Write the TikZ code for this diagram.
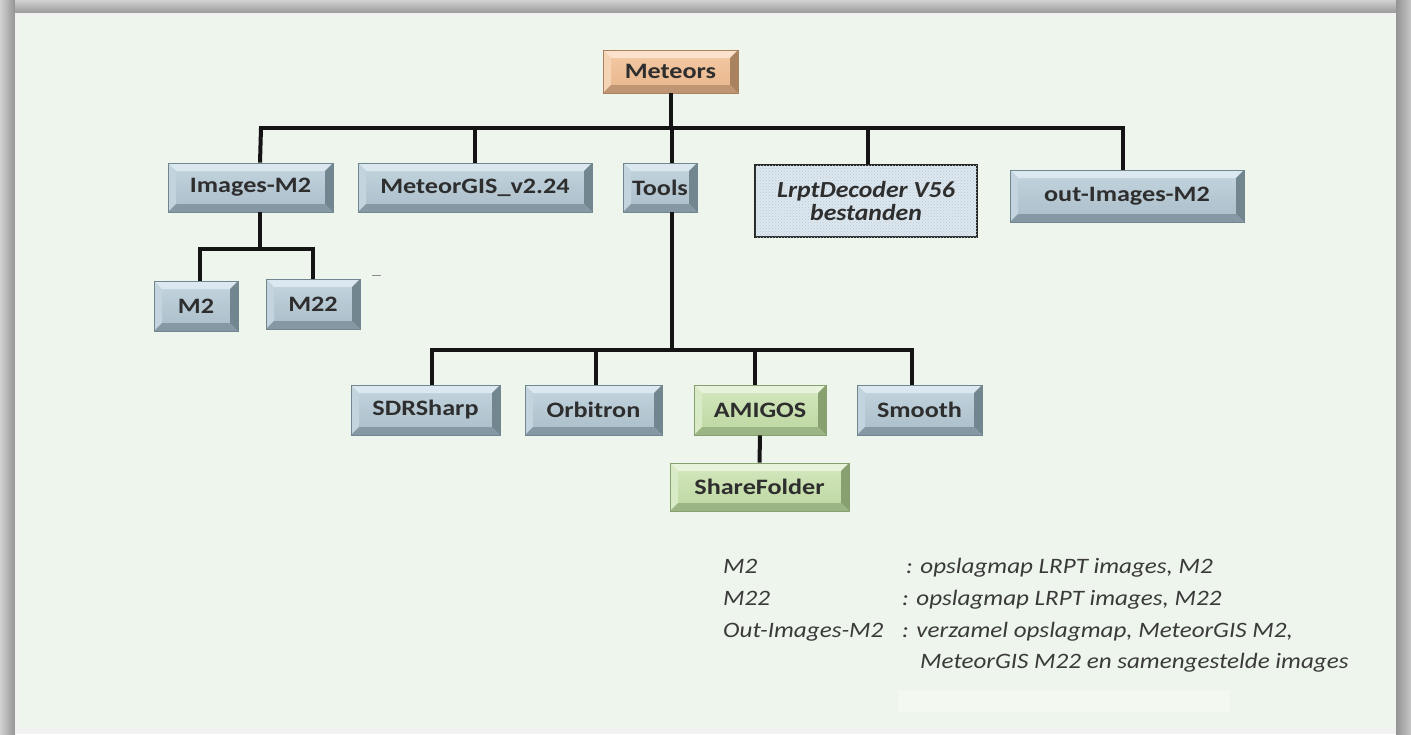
\documentclass[tikz,border=0pt]{standalone}
\usepackage{fontspec}
\setmainfont{Carlito}
\newfontfamily\boxfont[FakeStretch=1.19]{Carlito}
\newfontfamily\lrfont[FakeStretch=1.12]{Carlito}
\newfontfamily\lgdfont[FakeStretch=1.14]{Carlito}
\usetikzlibrary{patterns}
\definecolor{bg}{HTML}{EEF5EC}
\definecolor{txt}{HTML}{2E2E2E}
\definecolor{lgd}{HTML}{3A3A3A}
\definecolor{bfa}{HTML}{C4D5DF}\definecolor{bfb}{HTML}{A9BDC8}\definecolor{bt}{HTML}{DCE8EF}
\definecolor{bl}{HTML}{C3D4DE}\definecolor{br}{HTML}{71868F}\definecolor{bb}{HTML}{8598A3}
\definecolor{ofa}{HTML}{F4CAA4}\definecolor{ofb}{HTML}{E8B58C}\definecolor{ot}{HTML}{FAE2CC}
\definecolor{ol}{HTML}{F5D3B5}\definecolor{or}{HTML}{A98260}\definecolor{ob}{HTML}{BF9573}
\definecolor{gfa}{HTML}{D4E8BE}\definecolor{gfb}{HTML}{BCD6A0}\definecolor{gt}{HTML}{E8F3DC}
\definecolor{gl}{HTML}{D9EBC6}\definecolor{gr}{HTML}{889F70}\definecolor{gb}{HTML}{9CB584}
\definecolor{lrfill}{HTML}{DDE7EF}\definecolor{lrdot}{HTML}{B9CAD6}
\tikzset{
  bevelbox/.style n args={6}{inner sep=0pt, text=txt, font=\boxfont\bfseries\fontsize{22}{24}\selectfont,
    top color=#1, bottom color=#2, draw=#5, line width=0.8pt,
    path picture={
      \path (path picture bounding box.north west) coordinate (pnw)
            (path picture bounding box.south east) coordinate (pse);
      \fill[#3] (pnw) -- (pnw -| pse) -- ([shift={(-8pt,-8pt)}]pnw -| pse) -- ([shift={(8pt,-8pt)}]pnw) -- cycle;
      \fill[#4] (pnw) -- (pnw |- pse) -- ([shift={(8pt,8pt)}]pnw |- pse) -- ([shift={(8pt,-8pt)}]pnw) -- cycle;
      \fill[#5] (pnw -| pse) -- (pse) -- ([shift={(-8pt,8pt)}]pse) -- ([shift={(-8pt,-8pt)}]pnw -| pse) -- cycle;
      \fill[#6] (pse) -- (pnw |- pse) -- ([shift={(8pt,8pt)}]pnw |- pse) -- ([shift={(-8pt,8pt)}]pse) -- cycle;
    }},
  bluebox/.style={bevelbox={bfa}{bfb}{bt}{bl}{br}{bb}},
  orangebox/.style={bevelbox={ofa}{ofb}{ot}{ol}{or}{ob}},
  greenbox/.style={bevelbox={gfa}{gfb}{gt}{gl}{gr}{gb}},
  conn/.style={line width=4pt, draw=black!92},
  legend/.style={anchor=base west, inner sep=0pt, text=lgd, font=\lgdfont\itshape\fontsize{22}{24}\selectfont},
}
\begin{document}
\begin{tikzpicture}[x=1pt,y=-1pt]
% frame
\useasboundingbox (0,0) rectangle (1411,734);
\fill[black!30] (0,0) rectangle (1411,734);
\shade[left color=black!18, right color=black!42] (0,0) rectangle (15,734);
\shade[top color=black!18, bottom color=black!40] (15,0) rectangle (1396,13);
\shade[left color=black!42, right color=black!22] (1396,0) rectangle (1411,734);
\fill[white!95!black] (15,13) rectangle (1396,734);
\fill[bg] (18,16) rectangle (1394,728);
\fill[white, opacity=0.3] (898,690) rectangle (1230,712);

% nodes
\node[orangebox, minimum width=135, minimum height=43] (met) at (670.5,71.5) {Meteors};
\node[bluebox, minimum width=165, minimum height=49] (img) at (250.5,187.5) {Images-M2};
\node[bluebox, minimum width=234, minimum height=49] (gis) at (475,187.5) {MeteorGIS\_v2.24};
\node[bluebox, minimum width=74, minimum height=49] (tools) at (660,187.5) {Tools};
\node[draw=black!85, line width=2pt, fill=lrfill, minimum width=222, minimum height=72, inner sep=0pt,
      postaction={pattern=crosshatch dots, pattern color=lrdot},
      text=txt, font=\lrfont\bfseries\itshape\fontsize{23}{23}\selectfont, align=center] (lrpt) at (866,201) {LrptDecoder V56\\bestanden};
\node[bluebox, minimum width=234, minimum height=52] (out) at (1127,196) {out-Images-M2};
\node[bluebox, minimum width=84, minimum height=50] (m2) at (196,306) {M2};
\node[bluebox, minimum width=94, minimum height=50] (m22) at (313,304) {M22};
\node[bluebox, minimum width=149, minimum height=50] (sdr) at (425.5,410) {SDRSharp};
\node[bluebox, minimum width=137, minimum height=50] (orb) at (593.5,410) {Orbitron};
\node[greenbox, minimum width=132, minimum height=50] (ami) at (760,410) {AMIGOS};
\node[bluebox, minimum width=125, minimum height=50] (smo) at (919.5,410) {Smooth};
\node[greenbox, minimum width=179, minimum height=48] (share) at (759.5,487) {ShareFolder};
\fill[black!45] (372,274.5) rectangle (381,276);

% junction coordinates
\coordinate (busA) at (261,128);
\coordinate (busB) at (1123,128);
\coordinate (busC) at (200,249);
\coordinate (busD) at (313,249);
\coordinate (busE) at (432,350);
\coordinate (busF) at (912,350);

% connectors
\draw[conn] (met.south) -- (met.south |- busA);
\draw[conn, line cap=rect] (busA) -- (busB);
\draw[conn] (busA) -- ([xshift=9.5pt]img.north);
\draw[conn] (gis.north) -- (gis.north |- busA);
\draw[conn] ([xshift=12pt]tools.north) -- ([xshift=12pt]tools.north |- busA);
\draw[conn] ([xshift=2pt]lrpt.north) -- ([xshift=2pt]lrpt.north |- busA);
\draw[conn] (busB) -- ([xshift=-4pt]out.north);

\draw[conn] ([xshift=9.5pt]img.south) -- ([xshift=9.5pt]img.south |- busC);
\draw[conn, line cap=rect] (busC) -- (busD);
\draw[conn] (busC) -- ([xshift=4pt]m2.north);
\draw[conn] (busD) -- (m22.north);

\draw[conn] ([xshift=12pt]tools.south) -- ([xshift=12pt]tools.south |- busE);
\draw[conn, line cap=rect] (busE) -- (busF);
\draw[conn] (busE) -- ([xshift=6.5pt]sdr.north);
\draw[conn] ([xshift=2.5pt]orb.north) -- ([xshift=2.5pt]orb.north |- busE);
\draw[conn] ([xshift=-5pt]ami.north) -- ([xshift=-5pt]ami.north |- busE);
\draw[conn] (busF) -- ([xshift=-7.5pt]smo.north);
\draw[conn] (ami.south) -- (share.north);

% legend
\node[legend] (l1a) at (723,573) {M2};
\node[legend] (l1b) at (906,573) {: opslagmap LRPT images, M2};
\node[legend] (l2a) at (723,605) {M22};
\node[legend] (l2b) at (902,605) {: opslagmap LRPT images, M22};
\node[legend] (l3a) at (723,637) {Out-Images-M2};
\node[legend] (l3b) at (902,637) {: verzamel opslagmap, MeteorGIS M2,};
\node[legend] (l4b) at (920,668) {MeteorGIS M22 en samengestelde images};
\end{tikzpicture}
\end{document}
